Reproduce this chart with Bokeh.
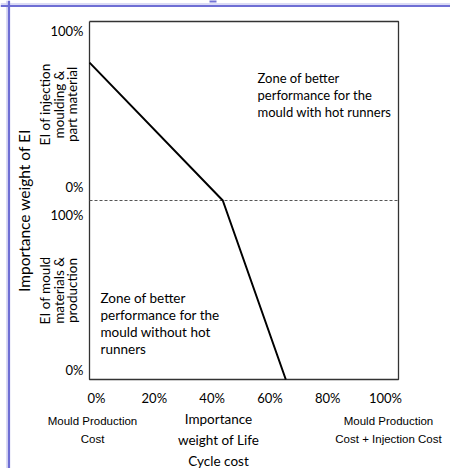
import math
from bokeh.plotting import figure
from bokeh.models import Range1d, Span
from bokeh.core.properties import value
from bokeh.embed import file_html
from bokeh.resources import INLINE

# ---------------- data ----------------
x_tick_values = [0.0, 0.2, 0.4, 0.6, 0.8, 1.0]
x_tick_labels = ["0%", "20%", "40%", "60%", "80%", "100%"]
upper_tick_values = [1.0, 0.0]          # EI of injection moulding & part material
upper_tick_labels = ["100%", "0%"]
lower_tick_values = [1.0, 0.0]          # EI of mould materials & production
lower_tick_labels = ["100%", "0%"]
# boundary between the zones (x = importance weight of life cycle cost)
upper_boundary_x = [-0.024, 0.437]
upper_boundary_w = [0.77, 0.0]          # weight of injection EI
lower_boundary_x = [0.437, 0.655]
lower_boundary_w = [1.0, 0.0]           # weight of mould EI

# ---------------- layout ----------------
W, H = 450, 468
X0, SX = 96.0, 289.0     # px of x=0, px per unit
Y0, SY = 200.0, 179.0    # px of y=0 (section divider), px per unit

def px(x):  # page x -> data x
    return (x - X0) / SX

def py(y):  # page y -> data y
    return (Y0 - y) / SY

p = figure(width=W, height=H, output_backend="svg", toolbar_location=None,
           x_range=Range1d(-X0 / SX, (W - X0) / SX),
           y_range=Range1d((Y0 - H) / SY, Y0 / SY),
           min_border=0, background_fill_color="white", border_fill_color="white")
p.axis.visible = False
p.grid.visible = False
p.outline_line_color = None

CAL = value("Lato")
ARI = value("Liberation Sans")

# window-like decoration (frame of the screenshot)
p.add_layout(Span(location=px(6.5), dimension="height", line_color="#cfcff2", line_width=1.5))
p.add_layout(Span(location=py(3.5), dimension="width", line_color="#cfcff2", line_width=1.5))
p.add_layout(Span(location=px(8.5), dimension="height", line_color="#6e6ed4", line_width=2.2))
p.add_layout(Span(location=py(5.5), dimension="width", line_color="#6e6ed4", line_width=2.2))
p.quad(left=px(209), right=px(216), top=py(-1), bottom=py(2),
       fill_color="#7373d6", line_color=None)

bl, br = px(89), px(398)
# plot box
p.line([bl, bl, br, br, bl], [1, -1, -1, 1, 1], line_color="#333333", line_width=1.3)
# section divider
p.line([bl, br], [0, 0], line_color="#555555", line_width=1, line_dash="3 2")

# boundary line (lower section mapped to y = w - 1)
bx = upper_boundary_x + lower_boundary_x[1:]
by = upper_boundary_w + [w - 1 for w in lower_boundary_w[1:]]
p.line(bx, by, line_color="black", line_width=2)

# y tick labels
p.text(x=[px(83)] * 2, y=upper_tick_values, text=upper_tick_labels,
       text_font=CAL, text_font_size="13px", text_align="right",
       text_baseline=["top", "bottom"], y_offset=[1, -6], text_color="black")
p.text(x=[px(83)] * 2, y=[v - 1 for v in lower_tick_values], text=lower_tick_labels,
       text_font=CAL, text_font_size="13px", text_align="right",
       text_baseline=["top", "bottom"], y_offset=[6, -2], text_color="black")

# x tick labels
p.text(x=x_tick_values, y=[py(397)] * len(x_tick_values), text=x_tick_labels,
       text_font=CAL, text_font_size="13px", text_align="center",
       text_baseline="middle", text_color="black")

# y titles (rotated)
rot = math.pi / 2
p.text(x=[px(23)], y=[py(210)], text=["Importance weight of EI"], angle=rot,
       text_font=CAL, text_font_size="15.5px", text_align="center",
       text_baseline="middle", text_color="black")
p.text(x=[px(44.5), px(58), px(71.5)], y=[py(104)] * 3,
       text=["EI of injection", "moulding &", "part material"], angle=rot,
       text_font=CAL, text_font_size="13.5px", text_align="center",
       text_baseline="middle", text_color="black")
p.text(x=[px(44.5), px(58), px(71.5)], y=[py(290)] * 3,
       text=["EI of mould", "materials &", "production"], angle=rot,
       text_font=CAL, text_font_size="13.5px", text_align="center",
       text_baseline="middle", text_color="black")

# zone annotations
p.text(x=[px(257)] * 3, y=[py(77), py(94), py(111)],
       text=["Zone of better", "performance  for the", "mould with hot runners"],
       text_font=CAL, text_font_size="13px", text_align="left",
       text_baseline="middle", text_color="black")
p.text(x=[px(100)] * 4, y=[py(297), py(314), py(331), py(348)],
       text=["Zone of better", "performance  for the", "mould without hot", "runners"],
       text_font=CAL, text_font_size="13.5px", text_align="left",
       text_baseline="middle", text_color="black")

# x axis captions
p.text(x=[px(92)] * 2, y=[py(420), py(438)], text=["Mould Production", "Cost"],
       text_font=ARI, text_font_size="11.5px", text_align="center",
       text_baseline="middle", text_color="black")
p.text(x=[px(218)] * 3, y=[py(418), py(439), py(460)],
       text=["Importance", "weight of Life", "Cycle cost"],
       text_font=CAL, text_font_size="13.5px", text_align="center",
       text_baseline="middle", text_color="black")
p.text(x=[px(388)] * 2, y=[py(420), py(438)], text=["Mould Production", "Cost + Injection Cost"],
       text_font=ARI, text_font_size="11.5px", text_align="center",
       text_baseline="middle", text_color="black")

open("out.html", "w").write(file_html(p, INLINE))
